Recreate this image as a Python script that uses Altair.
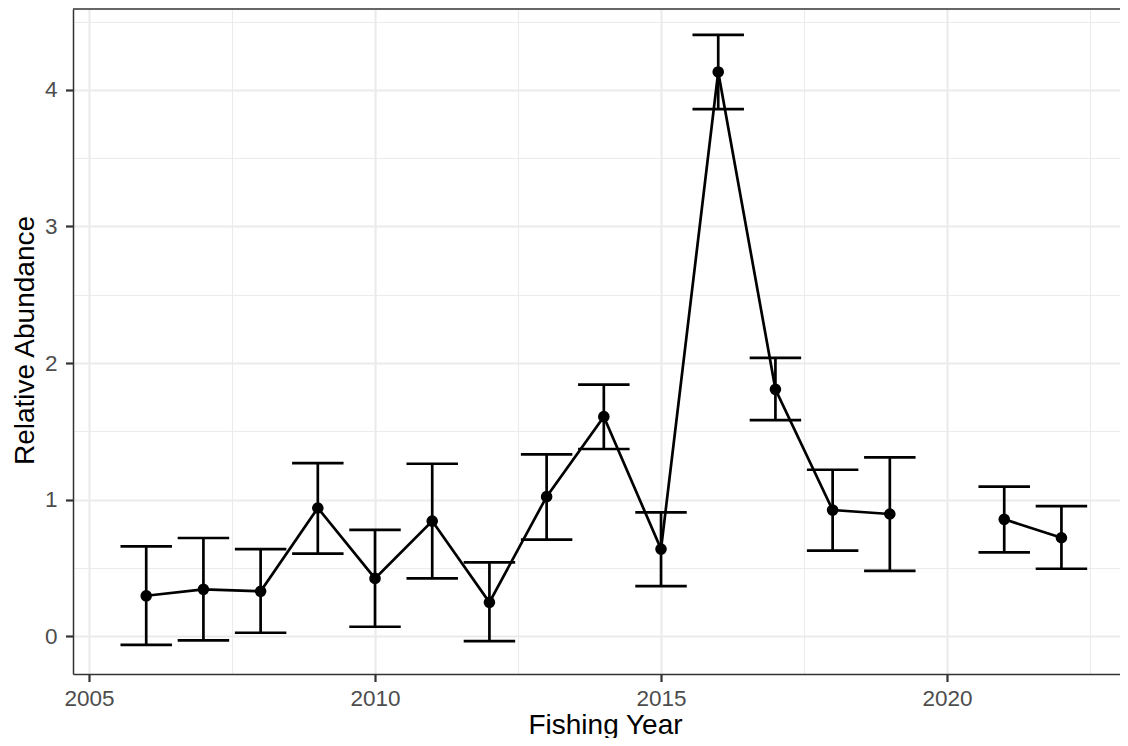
import altair as alt
import pandas as pd

years = [2006, 2007, 2008, 2009, 2010, 2011, 2012, 2013, 2014, 2015, 2016, 2017, 2018, 2019, 2021, 2022]
index = [0.295, 0.342, 0.328, 0.938, 0.422, 0.842, 0.247, 1.021, 1.607, 0.637, 4.132, 1.807, 0.923, 0.894, 0.855, 0.720]
lower = [-0.064, -0.031, 0.024, 0.603, 0.068, 0.422, -0.037, 0.706, 1.370, 0.366, 3.859, 1.582, 0.625, 0.478, 0.613, 0.493]
upper = [0.657, 0.718, 0.637, 1.267, 0.777, 1.262, 0.540, 1.331, 1.841, 0.906, 4.403, 2.037, 1.218, 1.309, 1.094, 0.952]
segment = ["a"] * 14 + ["b"] * 2

x_ticks = [2005, 2007.5, 2010, 2012.5, 2015, 2017.5, 2020, 2022.5]
y_ticks = [0, 0.5, 1, 1.5, 2, 2.5, 3, 3.5, 4, 4.5]

df = pd.DataFrame({"year": years, "index": index, "lower": lower, "upper": upper, "segment": segment})

W, H = 1047, 665
FONT = "Liberation Sans"
LW = 2.7

xscale = alt.Scale(domain=[2004.72, 2023.024], nice=False, zero=False)
yscale = alt.Scale(domain=[-0.278, 4.593], nice=False, zero=False)

xaxis = alt.Axis(
    values=x_ticks,
    title="Fishing Year",
    labelExpr="datum.value % 5 === 0 ? format(datum.value, 'd') : ''",
    labelFont=FONT, labelFontSize=22.5, labelColor="#4D4D4D",
    labelBaseline="alphabetic", labelPadding=23.5, labelFlush=False, labelOverlap=False,
    tickSize=7.5, tickWidth=2.2,
    tickColor={"condition": {"test": "datum.value % 5 === 0", "value": "#333333"}, "value": "transparent"},
    grid=True, gridColor="#EBEBEB",
    gridWidth={"condition": {"test": "datum.value % 5 === 0", "value": 2.2}, "value": 1.1},
    domainColor="#333333", domainWidth=1.5,
    titleFont=FONT, titleFontSize=28, titleColor="black", titleFontWeight="normal",
    titleX=532, titleY=59, titleBaseline="alphabetic", titleAlign="center",
)
yaxis = alt.Axis(
    values=y_ticks,
    title="Relative Abundance",
    labelExpr="datum.value % 1 === 0 ? format(datum.value, 'd') : ''",
    labelFont=FONT, labelFontSize=22.5, labelColor="#4D4D4D",
    labelBaseline="middle", labelPadding=8.5, labelOverlap=False,
    tickSize=7.5, tickWidth=2.2,
    tickColor={"condition": {"test": "datum.value % 1 === 0", "value": "#333333"}, "value": "transparent"},
    grid=True, gridColor="#EBEBEB",
    gridWidth={"condition": {"test": "datum.value % 1 === 0", "value": 2.2}, "value": 1.1},
    domainColor="#333333", domainWidth=1.5,
    titleFont=FONT, titleFontSize=28, titleColor="black", titleFontWeight="normal",
    titleX=-40, titleY=331, titleBaseline="alphabetic", titleAlign="center",
)

base = alt.Chart(df)

bars = base.mark_rule(color="black", strokeWidth=LW).encode(
    x=alt.X("year:Q", scale=xscale, axis=xaxis),
    y=alt.Y("lower:Q", scale=yscale, axis=yaxis),
    y2="upper:Q",
)

caps_base = base.transform_calculate(
    xlo="datum.year - 0.45", xhi="datum.year + 0.45"
)
cap_hi = caps_base.mark_rule(color="black", strokeWidth=LW).encode(
    x=alt.X("xlo:Q", scale=xscale, axis=xaxis),
    x2="xhi:Q",
    y=alt.Y("upper:Q", scale=yscale, axis=yaxis),
)
cap_lo = caps_base.mark_rule(color="black", strokeWidth=LW).encode(
    x=alt.X("xlo:Q", scale=xscale, axis=xaxis),
    x2="xhi:Q",
    y=alt.Y("lower:Q", scale=yscale, axis=yaxis),
)

line = base.mark_line(color="black", strokeWidth=LW).encode(
    x=alt.X("year:Q", scale=xscale, axis=xaxis),
    y=alt.Y("index:Q", scale=yscale, axis=yaxis),
    detail="segment:N",
)

points = base.mark_circle(color="black", size=135, opacity=1).encode(
    x=alt.X("year:Q", scale=xscale, axis=xaxis),
    y=alt.Y("index:Q", scale=yscale, axis=yaxis),
)

top_border = alt.Chart(pd.DataFrame({"k": [0]})).mark_rule(color="#333333", strokeWidth=1.5).encode(
    x=alt.value(0), x2=alt.value(W), y=alt.value(0)
)

chart = alt.layer(bars, cap_hi, cap_lo, line, points, top_border).properties(
    width=W, height=H,
    autosize=alt.AutoSizeParams(type="none"),
    padding={"left": 65, "top": 1, "right": 0, "bottom": 64},
    background="white",
).configure_view(strokeWidth=0, stroke="transparent")

chart.save("out.html", embed_options={"renderer": "svg", "actions": False})
